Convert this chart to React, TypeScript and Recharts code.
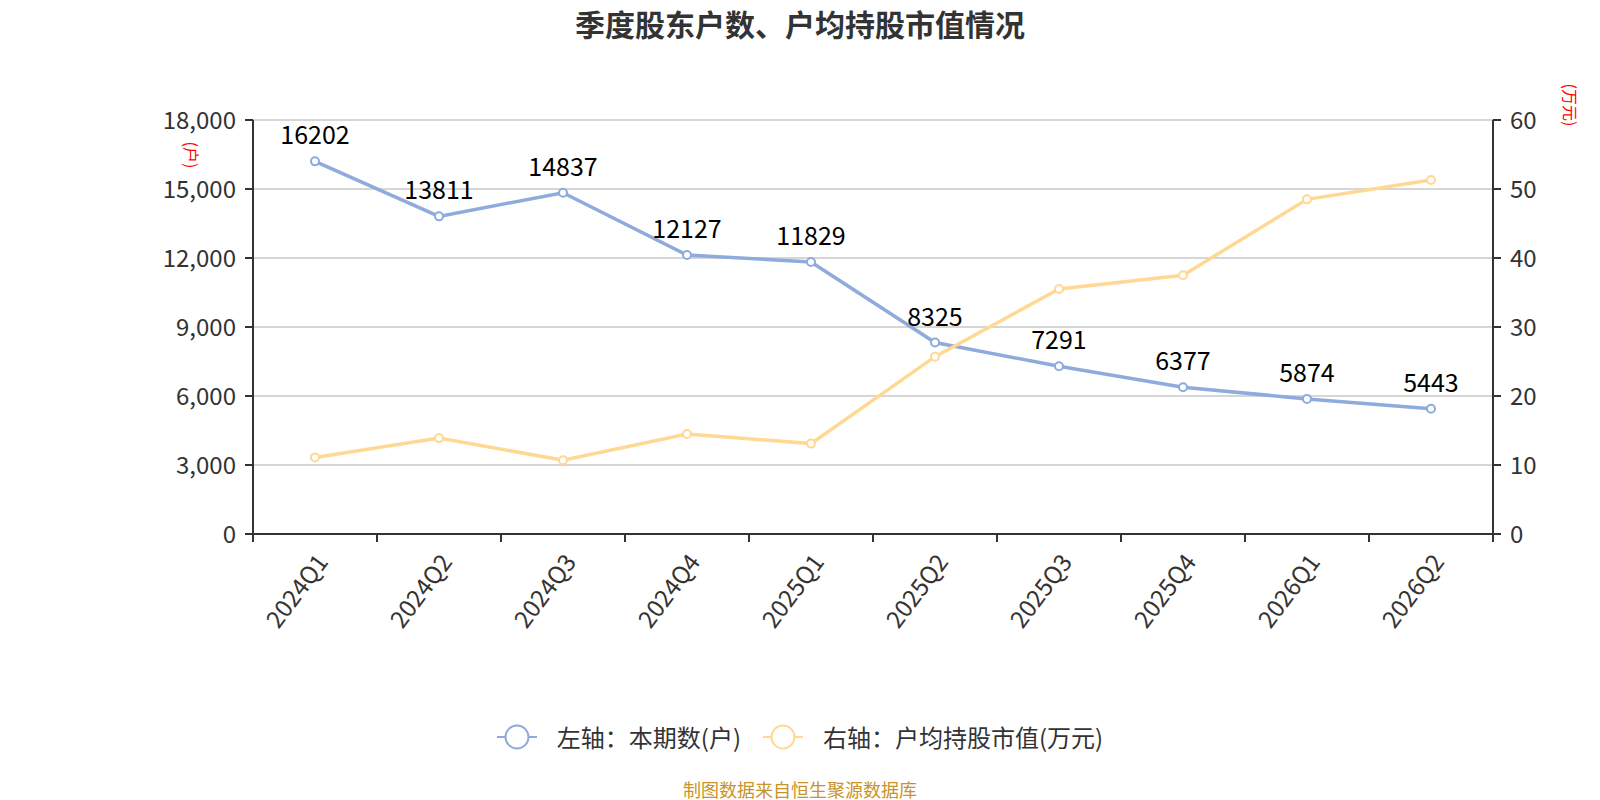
import React from "react";
import {
  ComposedChart,
  Line,
  XAxis,
  YAxis,
  CartesianGrid,
  Legend,
  LabelList,
} from "recharts";

// quarters on the x axis
const quarters = [
  "2024Q1", "2024Q2", "2024Q3", "2024Q4", "2025Q1",
  "2025Q2", "2025Q3", "2025Q4", "2026Q1", "2026Q2",
];
// left axis: 本期数(户)
const holders = [16202, 13811, 14837, 12127, 11829, 8325, 7291, 6377, 5874, 5443];
// right axis: 户均持股市值(万元)
const avgValue = [11.1, 13.9, 10.7, 14.5, 13.1, 25.7, 35.5, 37.5, 48.5, 51.3];

const leftTicks = [0, 3000, 6000, 9000, 12000, 15000, 18000];
const rightTicks = [0, 10, 20, 30, 40, 50, 60];

const BLUE = "#8FAADC";
const ORANGE = "#FFD993";
const AXIS = "#333333";
const FONT = '"Noto Sans CJK SC", "Noto Sans", sans-serif';

const PLOT_WIDTH = 1240;
const BAND = PLOT_WIDTH / quarters.length;

const data = quarters.map((q, i) => ({
  quarter: q,
  holders: holders[i],
  avgValue: avgValue[i],
}));

const fmt = (v: number) => v.toLocaleString("en-US");

// x tick: rotated label + tick marks on band boundaries
const QuarterTick = (props: any) => {
  const { x, y, payload, index } = props;
  return (
    <g>
      <line x1={x - BAND / 2} y1={y} x2={x - BAND / 2} y2={y + 8} stroke={AXIS} strokeWidth={2} />
      {index === quarters.length - 1 && (
        <line x1={x + BAND / 2} y1={y} x2={x + BAND / 2} y2={y + 8} stroke={AXIS} strokeWidth={2} />
      )}
      <text
        x={x + 6}
        y={y + 22}
        transform={`rotate(-53, ${x + 6}, ${y + 22})`}
        textAnchor="end"
        dominantBaseline="central"
        fontSize={24}
        fill={AXIS}
        fontFamily={FONT}
      >
        {payload.value}
      </text>
    </g>
  );
};

const legendItems = [
  { label: "左轴：本期数(户)", color: BLUE },
  { label: "右轴：户均持股市值(万元)", color: ORANGE },
];

const ChartLegend = () => (
  <div style={{ display: "flex", justifyContent: "center", alignItems: "center", gap: 22 }}>
    {legendItems.map((it) => (
      <div key={it.label} style={{ display: "flex", alignItems: "center" }}>
        <svg width={40} height={28}>
          <line x1={0} y1={14} x2={40} y2={14} stroke={it.color} strokeWidth={2} />
          <circle cx={20} cy={14} r={11.5} fill="#fff" stroke={it.color} strokeWidth={2} />
        </svg>
        <span style={{ fontSize: 24, color: AXIS, marginLeft: 20, fontFamily: FONT }}>{it.label}</span>
      </div>
    ))}
  </div>
);

export default function App() {
  return (
    <div
      style={{
        position: "absolute",
        left: 0,
        top: 0,
        width: 1600,
        height: 800,
        background: "#fff",
        fontFamily: FONT,
      }}
    >
      <div
        style={{
          position: "absolute",
          top: 4,
          left: 0,
          width: 1600,
          textAlign: "center",
          fontSize: 30,
          fontWeight: "bold",
          color: AXIS,
          lineHeight: "38px",
        }}
      >
        季度股东户数、户均持股市值情况
      </div>

      <ComposedChart
        width={1600}
        height={800}
        data={data}
        margin={{ top: 120, right: 7, left: 153, bottom: 146 }}
      >
        <CartesianGrid yAxisId="left" vertical={false} stroke="#c8c8c8" strokeWidth={1.5} />
        <XAxis
          dataKey="quarter"
          interval={0}
          height={120}
          padding={{ left: BAND / 2, right: BAND / 2 }}
          tickLine={false}
          tickSize={0}
          tickMargin={0}
          axisLine={{ stroke: AXIS, strokeWidth: 2 }}
          tick={<QuarterTick />}
        />
        <YAxis
          yAxisId="left"
          width={100}
          domain={[0, 18000]}
          ticks={leftTicks}
          tickFormatter={fmt}
          tickSize={8}
          tickMargin={9}
          axisLine={{ stroke: AXIS, strokeWidth: 2 }}
          tickLine={{ stroke: AXIS, strokeWidth: 2 }}
          tick={{ fontSize: 24, fill: AXIS, fontFamily: FONT }}
        />
        <YAxis
          yAxisId="right"
          orientation="right"
          width={100}
          domain={[0, 60]}
          ticks={rightTicks}
          tickSize={8}
          tickMargin={9}
          axisLine={{ stroke: AXIS, strokeWidth: 2 }}
          tickLine={{ stroke: AXIS, strokeWidth: 2 }}
          tick={{ fontSize: 24, fill: AXIS, fontFamily: FONT }}
        />
        <Legend
          layout="horizontal"
          verticalAlign="middle"
          align="center"
          wrapperStyle={{ top: 719, left: 0, width: 1600 }}
          content={<ChartLegend />}
        />
        <Line
          yAxisId="left"
          type="linear"
          dataKey="holders"
          stroke={BLUE}
          strokeWidth={3.5}
          dot={{ r: 4, fill: "#fff", stroke: BLUE, strokeWidth: 2 }}
          isAnimationActive={false}
        >
          <LabelList
            dataKey="holders"
            position="top"
            offset={17}
            fontSize={25}
            fill="#000"
            fontFamily={FONT}
          />
        </Line>
        <Line
          yAxisId="right"
          type="linear"
          dataKey="avgValue"
          stroke={ORANGE}
          strokeWidth={3.5}
          dot={{ r: 4, fill: "#fff", stroke: ORANGE, strokeWidth: 2 }}
          isAnimationActive={false}
        />
      </ComposedChart>

      <div
        style={{
          position: "absolute",
          left: 192,
          top: 155,
          transform: "translate(-50%, -50%) rotate(90deg)",
          color: "#ff0000",
          fontSize: 16,
          whiteSpace: "nowrap",
        }}
      >
        (户)
      </div>
      <div
        style={{
          position: "absolute",
          left: 1571,
          top: 105,
          transform: "translate(-50%, -50%) rotate(90deg)",
          color: "#ff0000",
          fontSize: 16,
          whiteSpace: "nowrap",
        }}
      >
        (万元)
      </div>

      <div
        style={{
          position: "absolute",
          top: 777,
          left: 0,
          width: 1600,
          textAlign: "center",
          fontSize: 18,
          color: "#C8932A",
          lineHeight: "24px",
        }}
      >
        制图数据来自恒生聚源数据库
      </div>
    </div>
  );
}
